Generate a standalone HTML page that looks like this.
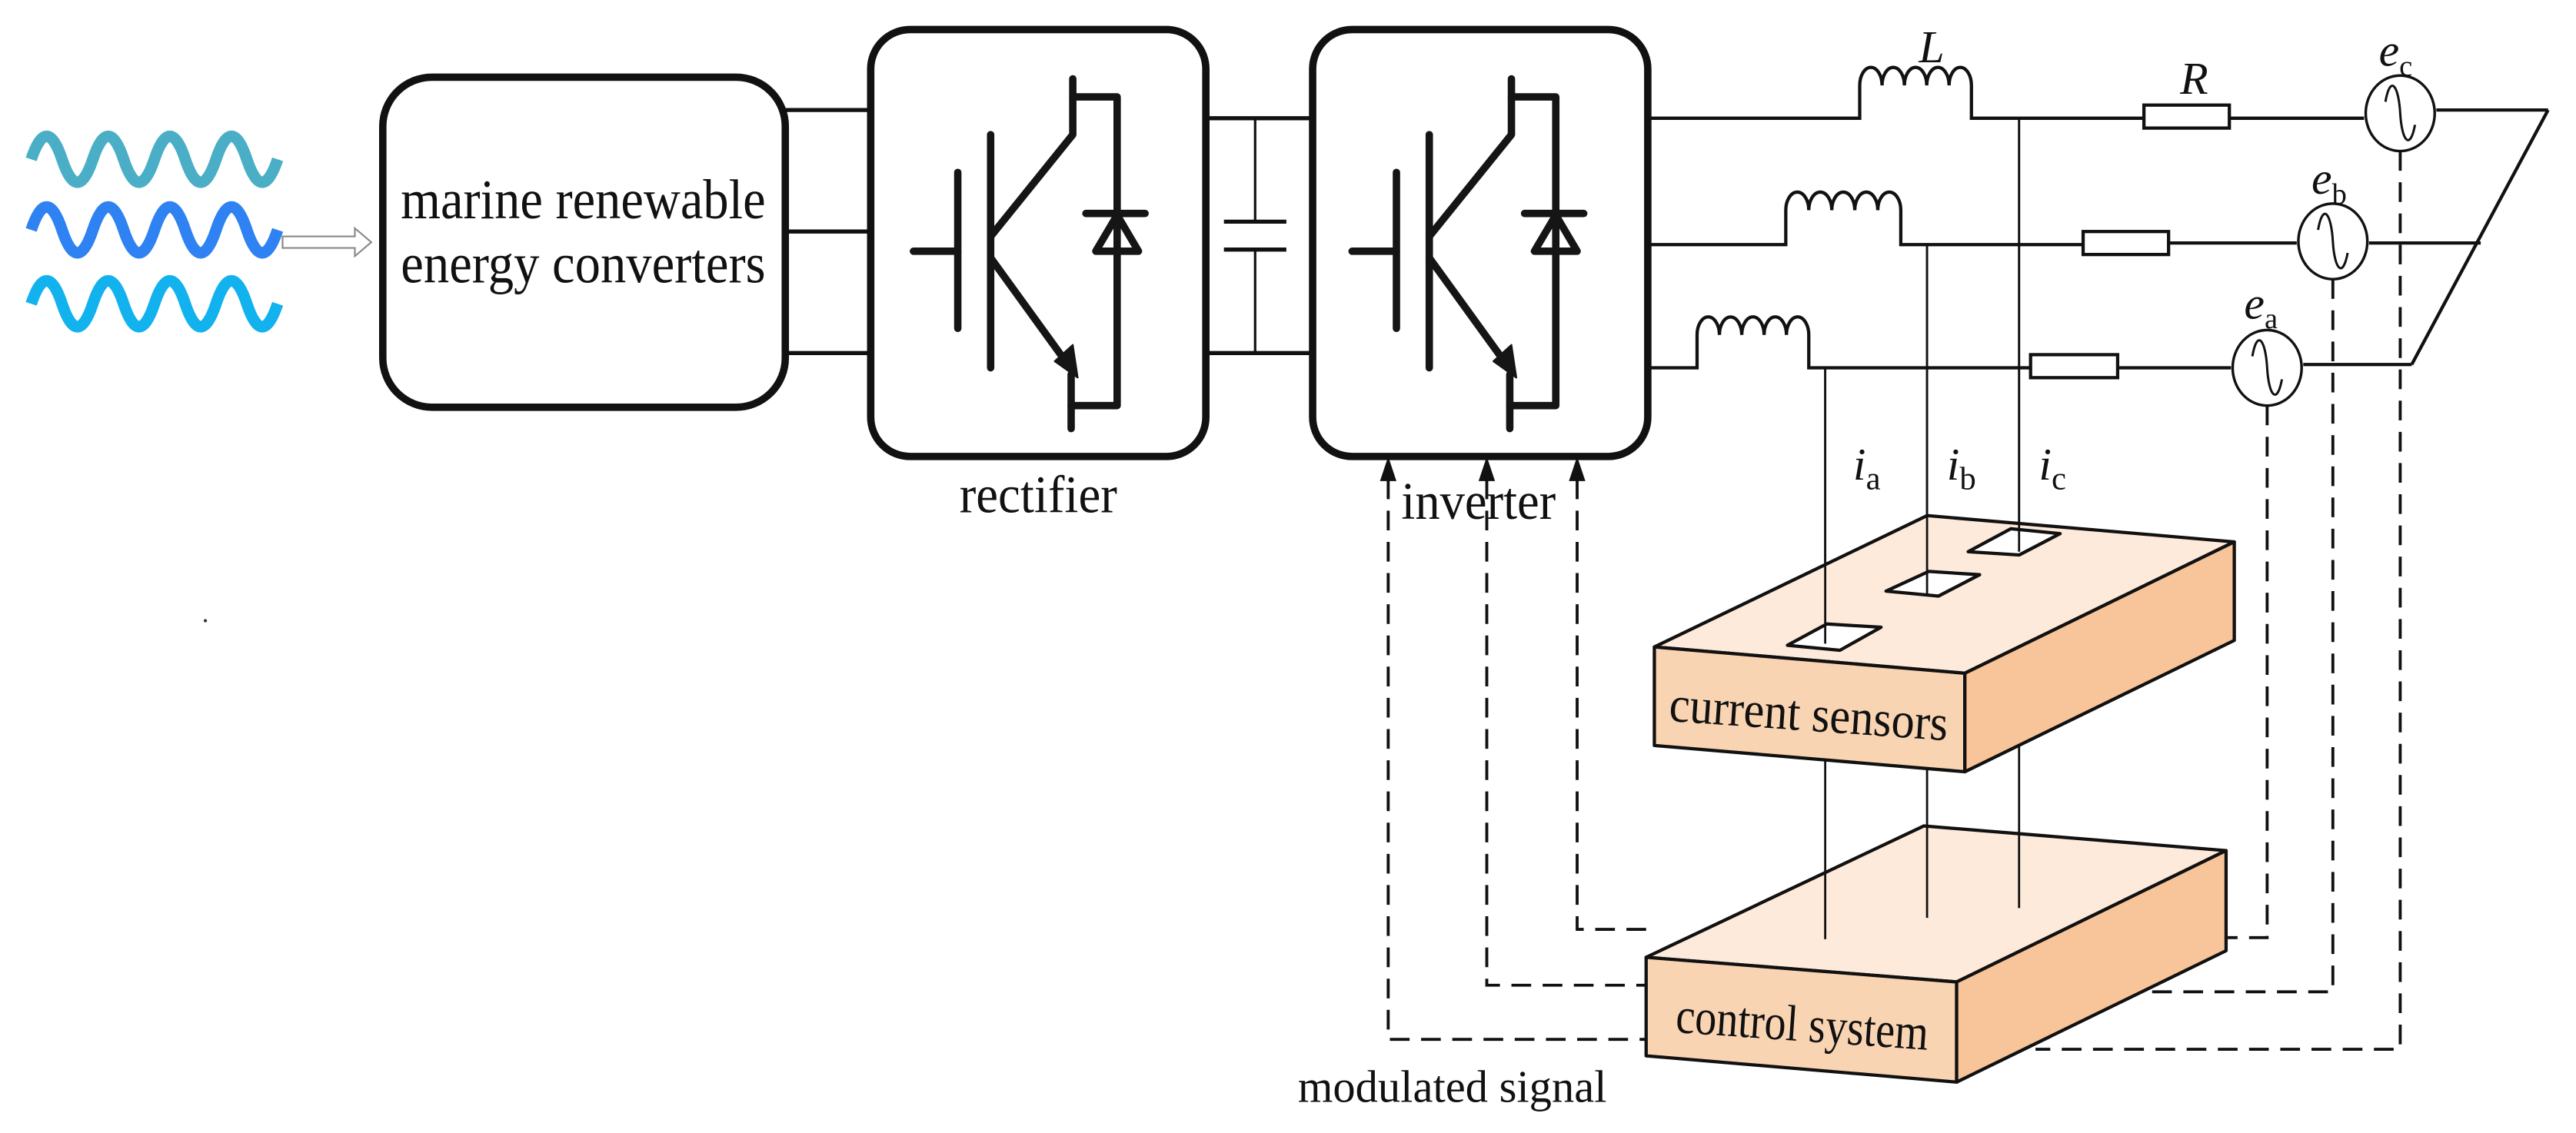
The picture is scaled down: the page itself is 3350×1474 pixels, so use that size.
<!DOCTYPE html>
<html><head><meta charset="utf-8"><style>
html,body{margin:0;padding:0;background:#fff;}
svg{display:block;}
text{font-family:"Liberation Serif",serif;fill:#111;}
</style></head><body>
<svg width="3350" height="1474" viewBox="0 0 1568 690" preserveAspectRatio="none" xmlns="http://www.w3.org/2000/svg">
<defs>
<g id="igbt" stroke="#151515" stroke-width="4.5" fill="none" stroke-linecap="round" stroke-linejoin="round">
  <line x1="556" y1="153" x2="583" y2="153"/>
  <line x1="583" y1="105" x2="583" y2="200"/>
  <line x1="603" y1="82" x2="603" y2="224"/>
  <polyline points="603,144 653,82 653,48"/>
  <polyline points="653,59 680,59 680,247 652,247"/>
  <line x1="652" y1="228" x2="652" y2="261"/>
  <line x1="661" y1="130" x2="697" y2="130"/>
  <polygon points="680,131 667,153 693,153"/>
  <line x1="603" y1="157" x2="650" y2="222"/>
  <polygon points="656,230 642,220 653,210" fill="#151515" stroke-width="1"/>
</g>
<path id="wave" d="M19,0 q9.4,-28 18.75,0 t18.75,0 t18.75,0 t18.75,0 t18.75,0 t18.75,0 t18.75,0 t18.75,0" fill="none" stroke-width="7"/>
</defs>

<use href="#wave" x="0" y="97" stroke="#4aafc6"/>
<use href="#wave" x="0" y="140" stroke="#2f82f2"/>
<use href="#wave" x="0" y="185" stroke="#12b2ee"/>
<path d="M172,144 L216,144 L216,139 L226,147.5 L216,156 L216,151 L172,151 Z" fill="#fff" stroke="#888" stroke-width="1"/>

<rect x="233" y="47" width="245" height="201" rx="30" fill="#fff" stroke="#111" stroke-width="4.5"/>
<text x="355" y="133" font-size="34" text-anchor="middle" textLength="222" lengthAdjust="spacingAndGlyphs">marine renewable</text>
<text x="355" y="172" font-size="34" text-anchor="middle" textLength="222" lengthAdjust="spacingAndGlyphs">energy converters</text>

<g stroke="#111" stroke-width="2.5">
<line x1="478" y1="67" x2="529" y2="67"/>
<line x1="478" y1="141" x2="529" y2="141"/>
<line x1="478" y1="215" x2="529" y2="215"/>
<line x1="734" y1="72" x2="798" y2="72"/>
<line x1="734" y1="215" x2="798" y2="215"/>
<line x1="764" y1="72" x2="764" y2="135" stroke-width="1.5"/>
<line x1="764" y1="152" x2="764" y2="215" stroke-width="1.5"/>
<line x1="745" y1="135" x2="783" y2="135"/>
<line x1="745" y1="152" x2="783" y2="152"/>
</g>

<rect x="530" y="18" width="204" height="260" rx="24" fill="#fff" stroke="#111" stroke-width="4.5"/>
<use href="#igbt"/>
<text x="632" y="312" font-size="32" text-anchor="middle" textLength="96" lengthAdjust="spacingAndGlyphs">rectifier</text>

<rect x="799" y="18" width="204" height="260" rx="24" fill="#fff" stroke="#111" stroke-width="4.5"/>
<use href="#igbt" x="267" y="0"/>
<text x="900" y="316" font-size="32" text-anchor="middle" textLength="94" lengthAdjust="spacingAndGlyphs">inverter</text>

<g stroke="#111" stroke-width="2" fill="none">
<path d="M1003,72 H1132 V52 a6.8,11 0 0 1 13.6,0 a6.8,11 0 0 1 13.6,0 a6.8,11 0 0 1 13.6,0 a6.8,11 0 0 1 13.6,0 a6.8,11 0 0 1 13.6,0 V72 H1305"/>
<line x1="1357" y1="72" x2="1439" y2="72"/>
<line x1="1483" y1="67" x2="1551" y2="67"/>
<line x1="1551" y1="67" x2="1468" y2="222"/>
<path d="M1003,149 H1087 V128 a7,11 0 0 1 14,0 a7,11 0 0 1 14,0 a7,11 0 0 1 14,0 a7,11 0 0 1 14,0 a7,11 0 0 1 14,0 V149 H1268"/>
<line x1="1320" y1="148" x2="1398" y2="148"/>
<line x1="1442" y1="148" x2="1510" y2="148"/>
<path d="M1003,224 H1033 V204 a6.8,11 0 0 1 13.6,0 a6.8,11 0 0 1 13.6,0 a6.8,11 0 0 1 13.6,0 a6.8,11 0 0 1 13.6,0 a6.8,11 0 0 1 13.6,0 V224 H1236"/>
<line x1="1289" y1="224" x2="1358" y2="224"/>
<line x1="1402" y1="222" x2="1468" y2="222"/>
<rect x="1305" y="64" width="52" height="14" fill="#fff"/>
<rect x="1268" y="141" width="52" height="14" fill="#fff"/>
<rect x="1236" y="216" width="53" height="14" fill="#fff"/>
</g>
<g stroke="#111" stroke-width="1.6" fill="#fff">
<ellipse cx="1461" cy="69" rx="21" ry="23"/>
<ellipse cx="1420" cy="147" rx="21" ry="23"/>
<ellipse cx="1380" cy="224" rx="21" ry="23"/>
</g>
<g stroke="#111" stroke-width="1.4" fill="none">
<path d="M1452,62 C1455,45 1460,52 1461,69 C1462,86 1467,92 1470,76"/>
<path d="M1411,140 C1414,123 1419,130 1420,147 C1421,164 1426,170 1429,154"/>
<path d="M1371,217 C1374,200 1379,207 1380,224 C1381,241 1386,247 1389,231"/>
</g>

<g font-style="italic" font-size="28">
<text x="1168" y="38">L</text>
<text x="1327" y="57">R</text>
<text x="1448" y="40">e<tspan font-style="normal" font-size="18" dy="6">c</tspan></text>
<text x="1407" y="118">e<tspan font-style="normal" font-size="18" dy="6">b</tspan></text>
<text x="1366" y="194">e<tspan font-style="normal" font-size="18" dy="6">a</tspan></text>
<text x="1128" y="292">i<tspan font-style="normal" font-size="20" dy="6">a</tspan></text>
<text x="1185" y="292">i<tspan font-style="normal" font-size="20" dy="6">b</tspan></text>
<text x="1241" y="292">i<tspan font-style="normal" font-size="20" dy="6">c</tspan></text>
</g>

<g stroke="#111" stroke-width="1.8" fill="none" stroke-dasharray="12,7">
<polyline points="845,292 845,633 1002,633"/>
<polyline points="905,292 905,600 1002,600"/>
<polyline points="960,292 960,566 1002,566"/>
<polyline points="1461,92 1461,639 1239,639"/>
<polyline points="1420,170 1420,604 1305,604"/>
<polyline points="1380,247 1380,571 1356,571"/>
</g>
<g fill="#111">
<polygon points="845,278 840,293 850,293"/>
<polygon points="905,278 900,293 910,293"/>
<polygon points="960,278 955,293 965,293"/>
</g>

<g stroke="#111" stroke-width="2" stroke-linejoin="round">
<polygon points="1171,503 1355,518 1191,598 1002,583" fill="#fdeadb"/>
<polygon points="1002,583 1191,598 1191,659 1002,643" fill="#f9d4b3"/>
<polygon points="1191,598 1355,518 1355,579 1191,659" fill="#f8c59a"/>
</g>
<text x="1097" y="634" font-size="31" text-anchor="middle" transform="rotate(4 1097 625)" textLength="154" lengthAdjust="spacingAndGlyphs">control system</text>

<g stroke="#111" stroke-width="1.3">
<line x1="1229" y1="72" x2="1229" y2="553"/>
<line x1="1173" y1="149" x2="1173" y2="559"/>
<line x1="1111" y1="224" x2="1111" y2="572"/>
</g>

<g stroke="#111" stroke-width="2" stroke-linejoin="round">
<polygon points="1173,314 1360,330 1196,410 1007,394" fill="#fdeadb"/>
<polygon points="1007,394 1196,410 1196,470 1007,454" fill="#f9d4b3"/>
<polygon points="1196,410 1360,330 1360,390 1196,470" fill="#f8c59a"/>
<polygon points="1088,393 1112,380 1145,382 1120,396" fill="#fff"/>
<polygon points="1148,360 1174,348 1205,350 1180,363" fill="#fff"/>
<polygon points="1198,336 1224,322 1254,325 1229,338" fill="#fff"/>
</g>
<g stroke="#111" stroke-width="1.3">
<line x1="1111" y1="224" x2="1111" y2="392"/>
<line x1="1173" y1="149" x2="1173" y2="362"/>
<line x1="1229" y1="72" x2="1229" y2="336"/>
</g>
<text x="1101" y="445" font-size="31" text-anchor="middle" transform="rotate(4 1101 435)" textLength="170" lengthAdjust="spacingAndGlyphs">current sensors</text>

<text x="884" y="671" font-size="28" text-anchor="middle" textLength="188" lengthAdjust="spacingAndGlyphs">modulated signal</text>
<circle cx="125" cy="378" r="1" fill="#333"/>
</svg>
</body></html>
